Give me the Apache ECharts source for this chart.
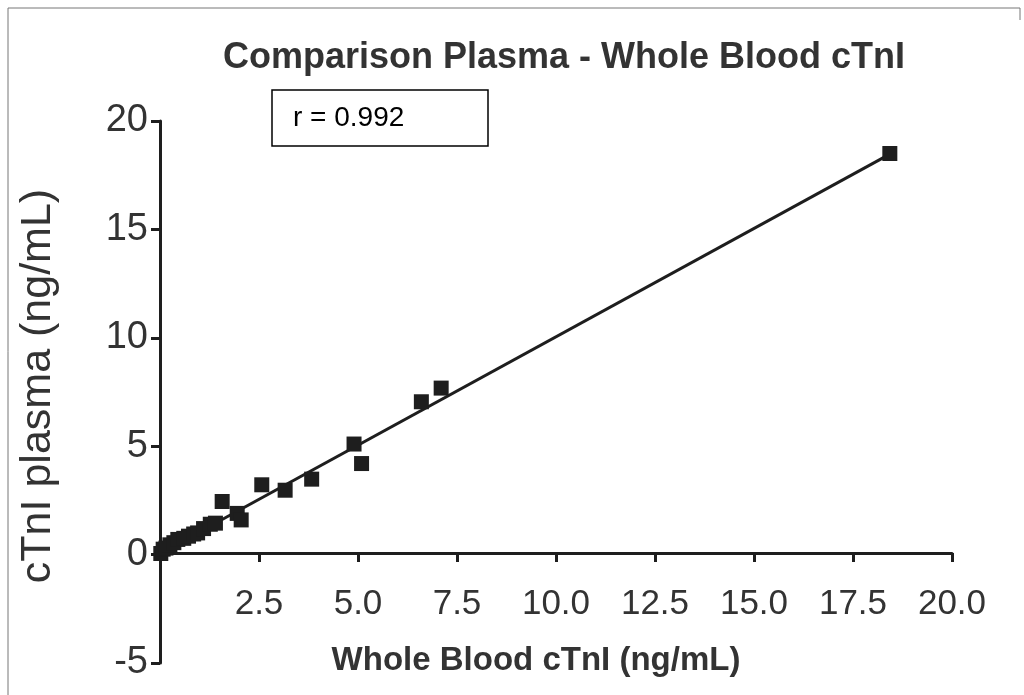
<!DOCTYPE html>
<html>
<head>
<meta charset="utf-8">
<script src="https://cdn.jsdelivr.net/npm/echarts@6/dist/echarts.min.js"></script>
<style>
  html, body { margin: 0; padding: 0; background: #fff; }
  #chart { width: 1024px; height: 695px; }
</style>
</head>
<body>
<div id="chart"></div>
<script>
// whole blood cTnI (x) vs plasma cTnI (y), ng/mL
const wholeBlood = [0.02, 0.08, 0.15, 0.25, 0.35, 0.45, 0.6, 0.72, 0.85, 0.95, 1.1, 1.27, 1.4, 1.57, 1.95, 2.05, 2.57, 3.16, 3.83, 4.9, 5.09, 6.6, 7.1, 18.43];
const plasma = [0.05, 0.25, 0.3, 0.45, 0.55, 0.7, 0.75, 0.85, 0.95, 1.0, 1.2, 1.4, 1.45, 2.45, 1.9, 1.6, 3.22, 2.97, 3.48, 5.1, 4.2, 7.05, 7.68, 18.5];
// regression line end points
const fitX = [0, 18.43];
const fitY = [0.05, 18.47];
const xTicks = [0, 2.5, 5, 7.5, 10, 12.5, 15, 17.5, 20];
const yTicks = [-5, 0, 5, 10, 15, 20];
const rText = 'r = 0.992';

const font = '"Liberation Sans", Arial, Helvetica, sans-serif';
const ink = '#1e1e1e';

const chart = echarts.init(document.getElementById('chart'));

chart.setOption({
  animation: false,
  backgroundColor: '#fff',
  title: {
    text: 'Comparison Plasma - Whole Blood cTnI',
    left: 559,
    top: 35,
    textAlign: 'center',
    textStyle: { fontFamily: font, fontSize: 36, fontWeight: 'bold', color: '#333' }
  },
  grid: { left: 160, right: 72, top: 121, bottom: 32, outerBoundsMode: 'none' },
  xAxis: {
    type: 'value',
    min: xTicks[0],
    max: xTicks[xTicks.length - 1],
    interval: 2.5,
    // x axis sits on y = 0, i.e. one fifth of the plot height above the bottom
    offset: -110,
    name: 'Whole Blood cTnI (ng/mL)',
    nameLocation: 'middle',
    nameGap: 91,
    nameTextStyle: { fontFamily: font, fontSize: 33, fontWeight: 'bold', color: '#333', padding: [0, 40, 0, 0] },
    axisLine: { onZero: false, lineStyle: { color: ink, width: 3 } },
    axisTick: { length: 9, lineStyle: { color: ink, width: 3 } },
    axisLabel: {
      margin: 34,
      fontFamily: font, fontSize: 35, color: '#333',
      formatter: v => (v === 0 ? '' : v.toFixed(1))
    },
    splitLine: { show: false }
  },
  yAxis: {
    type: 'value',
    min: yTicks[0],
    max: yTicks[yTicks.length - 1],
    interval: 5,
    name: 'cTnI plasma (ng/mL)',
    nameLocation: 'middle',
    nameGap: 100,
    nameTextStyle: { fontFamily: font, fontSize: 43, color: '#333', padding: [0, 0, 0, 12] },
    axisLine: { onZero: false, lineStyle: { color: ink, width: 3 } },
    axisTick: { length: 9, lineStyle: { color: ink, width: 3 } },
    axisLabel: { margin: 12, fontFamily: font, fontSize: 38, color: '#333' },
    splitLine: { show: false }
  },
  graphic: [
    {
      type: 'polyline',
      shape: { points: [[8, 695], [8, 8], [1020, 8], [1020, 20]] },
      style: { stroke: '#777', lineWidth: 1, fill: null }
    },
    {
      type: 'rect',
      shape: { x: 272, y: 90, width: 216, height: 56 },
      style: { stroke: '#000', lineWidth: 1.5, fill: '#fff' }
    },
    {
      type: 'text',
      x: 293, y: 118,
      style: { text: rText, font: '28px ' + font, fill: '#000', verticalAlign: 'middle' }
    }
  ],
  series: [
    {
      type: 'line',
      data: fitX.map((x, i) => [x, fitY[i]]),
      symbol: 'none',
      lineStyle: { color: ink, width: 3 },
      z: 3
    },
    {
      type: 'scatter',
      data: wholeBlood.map((x, i) => [x, plasma[i]]),
      symbol: 'rect',
      symbolSize: 15,
      itemStyle: { color: ink, opacity: 1 },
      z: 4
    }
  ]
});
</script>
</body>
</html>
